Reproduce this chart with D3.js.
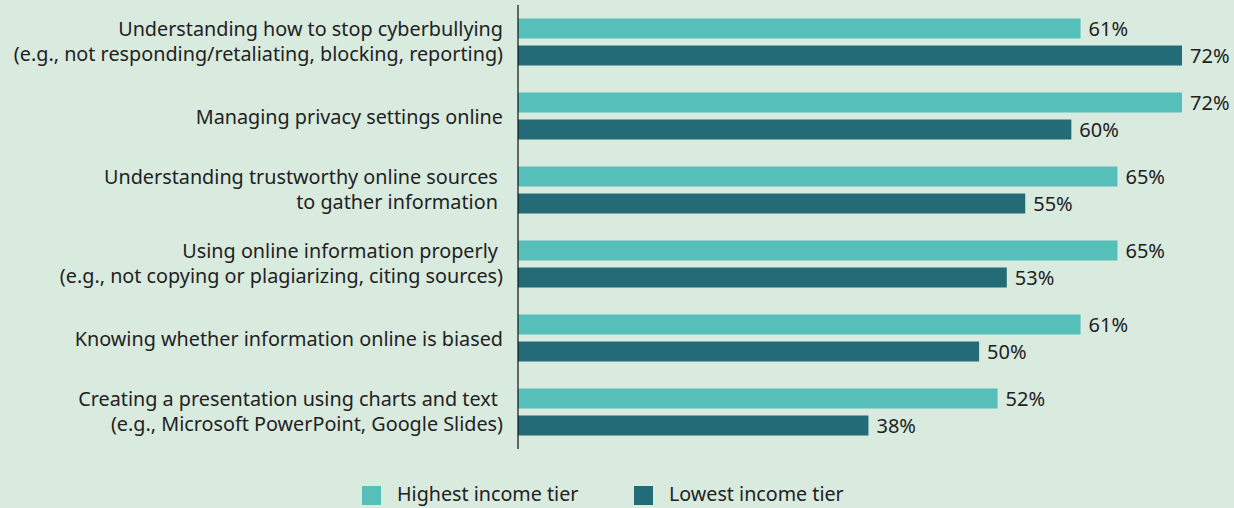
<!DOCTYPE html>
<html>
<head>
<meta charset="utf-8">
<script src="https://cdn.jsdelivr.net/npm/d3@7"></script>
<style>
  html, body { margin: 0; padding: 0; background: #d9eadf; }
  svg { display: block; font-family: "Noto Sans", sans-serif; }
  text { white-space: pre; fill: #222; }
</style>
</head>
<body>
<div id="chart"></div>
<script>
// categories (each label may wrap onto two lines)
const categories = [
  ["Understanding how to stop cyberbullying", "(e.g., not responding/retaliating, blocking, reporting)"],
  ["Managing privacy settings online"],
  ["Understanding trustworthy online sources ", "to gather information "],
  ["Using online information properly ", "(e.g., not copying or plagiarizing, citing sources)"],
  ["Knowing whether information online is biased"],
  ["Creating a presentation using charts and text ", "(e.g., Microsoft PowerPoint, Google Slides)"]
];
const seriesNames = ["Highest income tier", "Lowest income tier"];
const highest = [61, 72, 65, 65, 61, 52];
const lowest = [72, 60, 55, 53, 50, 38];
const colors = ["#56bfba", "#236b76"];

const width = 1234, height = 508;
const svg = d3.select("#chart").append("svg")
  .attr("width", width)
  .attr("height", height);

const keys = categories.map((c, i) => i);
const rows = keys.map(i => ({ i: i, vals: [highest[i], lowest[i]] }));

const x = d3.scaleLinear().domain([0, 72]).range([518, 1182]);
const y = d3.scaleBand().domain(keys).range([5, 449])
  .paddingInner(0.365).paddingOuter(0.1825);
const ySub = d3.scaleBand().domain([0, 1]).range([0, y.bandwidth()])
  .paddingInner(0.26);

const groups = svg.selectAll("g.grp")
  .data(rows)
  .enter()
  .append("g")
  .attr("class", "grp")
  .attr("transform", d => "translate(0," + y(d.i) + ")");

groups.selectAll("rect")
  .data(d => d.vals.map((v, k) => ({ v: v, k: k })))
  .enter()
  .append("rect")
  .attr("x", x(0))
  .attr("y", d => ySub(d.k))
  .attr("width", d => x(d.v) - x(0))
  .attr("height", ySub.bandwidth())
  .attr("fill", d => colors[d.k]);

groups.selectAll("text.val")
  .data(d => d.vals.map((v, k) => ({ v: v, k: k })))
  .enter()
  .append("text")
  .attr("class", "val")
  .attr("x", d => x(d.v) + 8)
  .attr("y", d => ySub(d.k) + ySub.bandwidth() / 2 + 0.5)
  .attr("dy", "0.36em")
  .style("font-size", "20px")
  .text(d => d.v + "%");

// category labels
groups.append("text")
  .attr("class", "cat")
  .attr("text-anchor", "end")
  .style("font-size", "19.8px")
  .each(function(d) {
    const lines = categories[d.i];
    const mid = y.bandwidth() / 2 + (lines.length > 1 ? -1 : 1);
    const lh = 25;
    const t = d3.select(this);
    lines.forEach((ln, j) => {
      t.append("tspan")
        .attr("x", 503)
        .attr("y", mid + (j - (lines.length - 1) / 2) * lh)
        .attr("dy", "0.36em")
        .text(ln);
    });
  });

// axis line
svg.append("line")
  .attr("x1", x(0)).attr("x2", x(0))
  .attr("y1", y.range()[0]).attr("y2", y.range()[1])
  .attr("stroke", "#111")
  .attr("stroke-width", 1.2);

// legend
const legendX = [362, 634];
const legend = svg.selectAll("g.leg")
  .data(seriesNames)
  .enter()
  .append("g")
  .attr("class", "leg")
  .attr("transform", (d, i) => "translate(" + legendX[i] + ",486)");
legend.append("rect")
  .attr("width", 19).attr("height", 19)
  .attr("fill", (d, i) => colors[i]);
legend.append("text")
  .attr("x", 35).attr("y", 8)
  .attr("dy", "0.36em")
  .style("font-size", "19.7px")
  .text(d => d);
</script>
</body>
</html>
